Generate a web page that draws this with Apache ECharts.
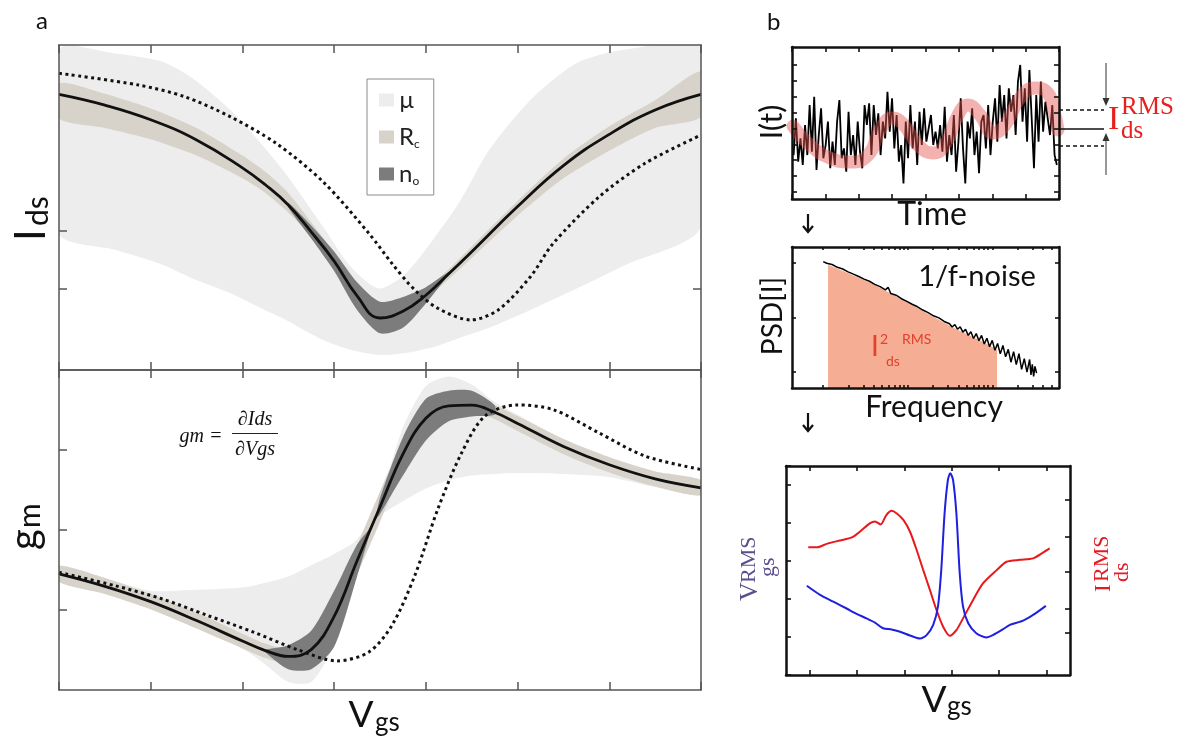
<!DOCTYPE html>
<html lang="en">
<head>
<meta charset="UTF-8">
<script src="https://cdn.jsdelivr.net/npm/echarts@6/dist/echarts.min.js"></script>
<title>Ids, gm and noise</title>
<style>html, body { margin: 0; padding: 0; background: #fff; }</style>
</head>
<body>
<div id="main" style="width: 1182px; height: 747px"></div>
<script>
    // ---- panel a, top: Ids vs Vgs ----
    var idsX     = [0, 0.5, 1, 1.5, 2, 2.25, 2.5, 2.75, 3, 3.25, 3.5, 3.75, 4, 4.25, 4.5, 5, 5.5, 6, 6.5, 7];
    var idsFit   = [84.8, 81.5, 77, 70.8, 62.2, 57, 50.8, 42.5, 33.5, 22.8, 16, 18.1, 23, 29.6, 36.4, 50.3, 62.9, 72.5, 80, 84.8];
    var idsRcHi  = [88.2, 85, 80.5, 74.5, 66, 61, 54.5, 45.5, 36, 25, 17.2, 19.2, 24.6, 31, 38, 52, 65, 75, 83, 91.8];
    var idsRcLo  = [77.5, 74.5, 71, 66, 59, 54.5, 48.5, 41, 32, 21.5, 15, 17, 22, 28, 34.5, 47.5, 59, 67.5, 74.5, 78];
    var idsMuX   = [0, 0.61, 1.12, 1.47, 1.87, 2.17, 2.47, 2.88, 3.18, 3.49, 3.78, 4.13, 4.38, 4.69, 5.14, 5.64, 6.15, 7];
    var idsMuHi  = [98.5, 97.4, 94.9, 89.5, 80, 70.8, 60.5, 44.1, 31.8, 25.1, 29.7, 42.1, 52.3, 67.7, 83.1, 94.4, 98.5, 99];
    var idsMuLo  = [42, 37, 32.5, 28, 23.6, 19.5, 15.5, 9.2, 6.2, 4.6, 5.2, 7.5, 10, 13, 18.5, 25, 32, 44];
    var idsNoX   = [2.5, 2.75, 3, 3.25, 3.5, 3.75, 4, 4.25];
    var idsNoHi  = [51.5, 44.5, 36.5, 27, 21, 22.5, 25.5, 30.2];
    var idsNoLo  = [50, 40.5, 30.5, 18.5, 11.3, 13, 20.5, 29.5];
    var idsDotX  = [0, 0.865, 1.37, 1.87, 2.37, 2.88, 3.38, 3.63, 3.88, 4.13, 4.49, 4.79, 5.14, 5.39, 5.89, 6.39, 7];
    var idsDotY  = [91.3, 87.7, 84.1, 77.9, 69.7, 57.9, 42, 32.8, 24.6, 19, 15.4, 18.5, 28.7, 39, 53.3, 63.6, 72.3];

    // ---- panel a, bottom: gm vs Vgs ----
    var gmX      = [0, 0.5, 1, 1.5, 2, 2.25, 2.5, 2.75, 3, 3.25, 3.5, 3.75, 4, 4.25, 4.5, 4.75, 5, 5.5, 6, 6.5, 7];
    var gmFit    = [36.3, 32.4, 27.6, 21.7, 15.3, 12.3, 10.5, 12.6, 23, 40.4, 57.2, 73.7, 84.9, 88.8, 89, 86.8, 83.3, 76.1, 70.4, 66, 63.2];
    var gmRcHi   = [38.8, 35, 30, 24.2, 17.6, 14.5, 12.8, 15.2, 27, 45, 62, 78, 88, 91.2, 91.4, 89.1, 85.6, 78.4, 72.7, 68.3, 65.6];
    var gmRcLo   = [33.8, 30, 25.2, 19.2, 13, 10, 8.2, 10, 19.5, 36, 52.5, 69.5, 81.8, 86.5, 86.8, 84.6, 80.9, 73.7, 68, 63.6, 60.8];
    var gmMuHi   = [38.8, 35, 31, 31.3, 32, 33.5, 35.5, 39, 42.5, 47, 60, 82, 95, 98, 95.5, 90, 86, 78.5, 72.8, 68.3, 65.6];
    var gmMuLo   = [33.8, 30, 25.2, 19.2, 13, 8, 2.5, 2.5, 14, 36, 54, 59, 63, 65.5, 67, 67.5, 67.8, 67.5, 66.5, 63.4, 60.8];
    var gmNoX    = [2.25, 2.5, 2.75, 3, 3.25, 3.43, 3.5, 3.75, 4, 4.25, 4.5, 4.75];
    var gmNoHi   = [12.6, 14, 18.5, 31, 45.5, 52.3, 60, 79, 91, 93.5, 93.5, 89];
    var gmNoLo   = [11.8, 6.5, 6.5, 13.5, 35.5, 52.3, 55, 67, 78, 84, 85.5, 86];
    var gmDotX   = [0, 0.61, 1.12, 1.62, 2.12, 2.62, 3.03, 3.38, 3.63, 3.88, 4.13, 4.39, 4.64, 4.99, 5.39, 5.89, 6.39, 7];
    var gmDotY   = [36.8, 32.6, 28.5, 23.3, 18.1, 12.4, 9.1, 11.9, 20.2, 35.8, 56.5, 74.1, 85.5, 89.1, 87.6, 80.3, 73.1, 68.9];

    // ---- panel b, I(t) ----
    var noiseY = [28.9, 53.1, 24.6, 39.9, 22.4, 48.7, 28.9, 61.8, 31.1, 67.3, 19.1, 42.1, 59.6, 26.8, 35.5, 50.9,
        20.2, 37.7, 22.4, 50.9, 65.1, 26.8, 33.3, 18, 57.4, 28.9, 42.1, 22.4, 50.9, 31.1, 20.2, 61.8, 48.7, 63,
        28.9, 61.8, 42.1, 56.4, 28.9, 50.9, 39.9, 70.6, 44.3, 66.2, 33.3, 55.3, 24.6, 35.5, 10.3, 50.9, 26.8,
        61.8, 33.3, 50.9, 22.4, 57.4, 35.5,
        59.6, 37.7, 46.5, 55.3, 35.5, 44.3, 33.3, 48.7, 31.1, 60.7, 24.6, 42.1, 28.9, 55.3, 18, 37.7, 66.2, 33.3,
        10.3, 50.9, 39.9, 59.6, 28.9, 44.3, 16.9, 50.9, 55.3, 33.3, 61.8, 28.9, 50.9, 66.2, 37.7, 75, 50.9, 68.4,
        39.9, 72.8, 57.4, 68.4, 42.1, 77.2, 88.2, 50.9, 72.8, 37.7, 84.9, 53.1, 20.2, 68.4, 37.7, 77.2, 44.3, 64,
        53.1, 42.1, 61.8, 28.9, 22.4];
    var trendX = [0.4, 6.7, 14.2, 21.7, 28.5, 33, 37.5, 41.6, 47.2, 52.8, 57.3, 62.2, 65.9, 70.4, 75.3, 79.8, 85.4, 91, 95.5, 98.5, 99.6];
    var trendY = [48, 35.5, 27, 24.3, 28.9, 45.4, 53.3, 49.3, 35.5, 30.3, 35.5, 55.3, 61.8, 55.3, 43.4, 48.7, 66.4, 73, 70.4, 55.3, 45.4];

    // ---- panel b, PSD ----
    var psdX = [11.7, 13, 15, 17, 19, 21, 23, 25, 27, 29, 31, 33, 35, 36, 37, 39, 41, 43, 45, 47, 49, 51, 53, 55, 57, 59,
        60, 61, 62, 63, 64, 65, 66, 67, 68, 69, 70, 71, 72, 73, 74, 75, 76, 77, 78, 79, 80, 81, 82, 83, 84, 85, 86,
        87, 88, 89, 89.5, 90, 90.5, 91, 91.6];
    var psdY = [89.6, 88.5, 87.6, 85.6, 84.4, 82.4, 80.8, 79.1, 77.2, 75.7, 73.5, 71.9, 69.6, 71.4, 67, 65.8, 63.3,
        61.4, 59.4, 57.6, 55.3, 53.5, 51.2, 49.7, 47.2, 45.6, 43.3, 45, 41.7, 43.4, 39.6, 41.7, 37.3, 39.9, 35.1,
        38.6, 33.6, 37.3, 31.2, 35.3, 29.2, 33.8, 26.7, 31.6, 24.2, 30.2, 22.1, 27.4, 18.3, 25.8, 16.6, 24.3, 13.2,
        20.8, 11.2, 20.2, 9.2, 16.8, 8.2, 15.3, 10.5];
    var fillX = [13.5, 20, 30, 40, 50, 60, 70, 76.8];
    var fillY = [87.4, 82.3, 74, 64, 53.6, 43.3, 34.2, 27.3];
    var psdMinor = [11.6, 21.1, 26.7, 30.7, 33.8, 36.3, 38.4, 40.2, 41.8, 43.3, 52.8, 58.4, 62.4, 65.5, 68, 70.1,
        71.9, 73.5, 75, 84.5, 90.1, 94.1, 97.2];

    // ---- panel b, RMS vs Vgs ----
    var redX  = [0.47, 0.65, 0.86, 1.14, 1.39, 1.56, 1.77, 1.88, 2.0, 2.12, 2.23, 2.34, 2.48, 2.62, 2.76, 2.9, 3.04,
        3.18, 3.32, 3.46, 3.6, 3.74, 3.95, 4.16, 4.45, 4.66, 4.94, 5.22, 5.43, 5.57];
    var redY  = [3.36, 3.36, 3.45, 3.54, 3.62, 3.77, 3.99, 4.04, 3.96, 4.21, 4.32, 4.25, 4.08, 3.77, 3.29, 2.76, 2.24,
        1.71, 1.27, 1.03, 1.18, 1.49, 1.97, 2.41, 2.76, 2.98, 3.03, 3.07, 3.22, 3.33];
    var blueX = [0.44, 0.72, 1.0, 1.28, 1.49, 1.7, 1.88, 2.05, 2.23, 2.41, 2.62, 2.83, 2.97, 3.11, 3.21, 3.28, 3.35,
        3.42, 3.47, 3.53, 3.6, 3.67, 3.74, 3.85, 4.02, 4.23, 4.37, 4.58, 4.73, 5.01, 5.22, 5.49];
    var blueY = [2.35, 2.11, 1.93, 1.75, 1.61, 1.49, 1.38, 1.23, 1.2, 1.14, 1.04, 0.96, 1.05, 1.32, 1.8, 2.76, 4.25,
        5.13, 5.31, 5.13, 4.25, 2.68, 1.8, 1.36, 1.1, 0.99, 1.05, 1.2, 1.32, 1.43, 1.58, 1.82];

    var MU = '#ededed', RC = '#d7d3cb', NO = '#7c7c7c';
    var GREY = '#555', INK = '#111';
    var SANS = 'Lato', SERIF = 'Liberation Serif';

    var chart = echarts.init(document.getElementById('main'));

    function pairs(xs, ys) {
        return xs.map(function (x, i) { return [x, ys[i]]; });
    }

    // two value axes for one grid side pair (bottom/top or left/right)
    function axisPair(dir, grid, min, max, ticks, col, w, len) {
        var pos = dir === 'x' ? ['bottom', 'top'] : ['left', 'right'];
        return pos.map(function (p, k) {
            var t = ticks[k];
            return {
                type: 'value', gridIndex: grid, position: p, min: min, max: max, z: 6,
                interval: t ? t.interval : undefined,
                axisLine: {show: true, onZero: false, lineStyle: {color: col, width: w}},
                axisTick: {show: !!t, inside: true, length: len,
                    lineStyle: {color: col, width: Math.min(w, 1.6)}, customValues: t ? t.values : undefined},
                axisLabel: {show: false},
                splitLine: {show: false}
            };
        });
    }

    // shaded band between lo and hi, drawn as one polygon through the axes
    function bandItem(params, api) {
        if (params.dataIndexInside !== 0) return;
        var up = [], dn = [];
        for (var i = 0; i < params.dataInsideLength; i++) {
            var x = api.value(0, i);
            up.push(api.coord([x, api.value(2, i)]));
            dn.push(api.coord([x, api.value(1, i)]));
        }
        return {type: 'polygon', shape: {points: up.concat(dn.reverse()), smooth: 0.25},
            style: {fill: api.visual('color')}};
    }

    function band(grid, name, xs, lo, hi, color) {
        return {type: 'custom', name: name, xAxisIndex: grid * 2, yAxisIndex: grid * 2, clip: true, silent: true,
            itemStyle: {color: color}, encode: {x: 0, y: [1, 2]}, renderItem: bandItem,
            data: xs.map(function (x, i) { return [x, lo[i], hi[i]]; })};
    }

    function curve(grid, xs, ys, color, width, type, smooth) {
        return {type: 'line', xAxisIndex: grid * 2, yAxisIndex: grid * 2, data: pairs(xs, ys), smooth: smooth,
            symbol: 'none', silent: true, emphasis: {disabled: true},
            lineStyle: {color: color, width: width, type: type, cap: 'butt'}};
    }

    var xAxes = [].concat(
        axisPair('x', 0, 0, 7, [{interval: 1}, {interval: 1}], GREY, 1.5, 8),
        axisPair('x', 1, 0, 7, [{interval: 1}, {interval: 1}], GREY, 1.5, 8),
        axisPair('x', 2, 0, 100, [{interval: 12.5}, {interval: 12.5}], INK, 2.5, 5),
        axisPair('x', 3, 0, 100, [{values: psdMinor}, {values: psdMinor}], INK, 2.5, 3),
        axisPair('x', 4, 0, 6, [{values: [0.5, 1.5, 2.5, 3.5, 4.5, 5.5]}, {values: [0.5, 1.5, 2.5, 3.5, 4.5, 5.5]}], INK, 2.5, 5)
    );
    var yAxes = [].concat(
        axisPair('y', 0, 0, 100, [{values: [25, 43]}, {values: [25]}], GREY, 1.5, 8),
        axisPair('y', 1, 0, 100, [{values: [25, 50, 75]}, null], GREY, 1.5, 8),
        axisPair('y', 2, 0, 100, [{values: [4.5, 15, 25.5, 36, 46.5, 57, 67.5, 78, 88.5]},
            {values: [4.5, 15, 25.5, 36, 46.5, 57, 67.5, 78, 88.5]}], INK, 2.5, 5),
        axisPair('y', 3, 0, 100, [{values: [11.3, 49.6, 88.7]}, {values: [11.3, 49.6, 88.7]}], INK, 2.5, 4),
        axisPair('y', 4, 0, 5.5, [{interval: 1}, {values: [1.1, 1.75, 2.72, 3.64, 4.6]}], INK, 2.5, 5)
    );

    var series = [
        band(0, '\u00b5', idsMuX, idsMuLo, idsMuHi, MU),
        band(1, '\u00b5', gmX, gmMuLo, gmMuHi, MU),
        band(0, 'Rc', idsX, idsRcLo, idsRcHi, RC),
        band(1, 'Rc', gmX, gmRcLo, gmRcHi, RC),
        band(0, 'no', idsNoX, idsNoLo, idsNoHi, NO),
        band(1, 'no', gmNoX, gmNoLo, gmNoHi, NO),
        curve(0, idsDotX, idsDotY, INK, 3, [3, 3.5], 0.3),
        curve(1, gmDotX, gmDotY, INK, 3, [3, 3.5], 0.3),
        curve(0, idsX, idsFit, INK, 2.8, 'solid', 0.45),
        curve(1, gmX, gmFit, INK, 2.8, 'solid', 0.4),
        // I(t): raw trace plus its slow component
        {type: 'line', xAxisIndex: 4, yAxisIndex: 4, symbol: 'none', silent: true,
            data: noiseY.map(function (v, i) { return [0.6 + i * 98.6 / (noiseY.length - 1), v]; }),
            lineStyle: {color: '#000', width: 1.8}},
        {type: 'line', xAxisIndex: 4, yAxisIndex: 4, symbol: 'none', silent: true, smooth: 0.5,
            data: pairs(trendX, trendY),
            lineStyle: {color: 'rgba(228,84,78,0.45)', width: 13, cap: 'round', join: 'round'}},
        // PSD
        {type: 'line', xAxisIndex: 6, yAxisIndex: 6, symbol: 'none', silent: true, data: pairs(fillX, fillY),
            smooth: 0.3, lineStyle: {width: 0}, areaStyle: {color: '#f5ae93', opacity: 1}},
        curve(3, psdX, psdY, '#000', 1.5, 'solid', false),
        // RMS vs Vgs
        curve(4, redX, redY, '#e8191c', 2, 'solid', 0.25),
        curve(4, blueX, blueY, '#1f20df', 2, 'solid', 0.25)
    ];

    function txt(x, y, text, size, opt) {
        opt = opt || {};
        return {type: 'text', x: x, y: y, rotation: opt.rot || 0, z: 10,
            style: {text: text, fontSize: size, fontFamily: opt.font || SANS, fontStyle: opt.italic ? 'italic' : 'normal',
                fill: opt.color || '#111', align: opt.align || 'left', verticalAlign: 'middle',
                textAlign: opt.align || 'left', textVerticalAlign: 'middle'}};
    }

    // rotated label: children laid out along the reading direction
    function rotLabel(x, y, parts) {
        return {type: 'group', x: x, y: y, rotation: Math.PI / 2, z: 10,
            children: parts.map(function (p) { return txt(p[0], p[1], p[2], p[3], p[4]); })};
    }

    var PURPLE = '#5b4d8e', RED = '#e31b23';

    var graphics = [
        txt(36, 21, 'a', 24),
        txt(767, 22, 'b', 24),
        // panel a axis titles
        txt(361, 715, 'V', 37, {align: 'center'}),
        txt(375, 723, 'gs', 26),
        rotLabel(44, 241, [[0, -13, 'I', 42], [15, -6, 'ds', 30]]),
        rotLabel(38, 550, [[0, -13, 'g', 40], [22, -8, 'm', 30]]),
        // gm formula
        txt(201, 437, 'gm =', 20, {font: SERIF, italic: true, align: 'center'}),
        txt(255, 420, '\u2202Ids', 20, {font: SERIF, italic: true, align: 'center'}),
        txt(255, 450, '\u2202Vgs', 20, {font: SERIF, italic: true, align: 'center'}),
        {type: 'line', z: 10, shape: {x1: 232, y1: 433.5, x2: 278, y2: 433.5}, style: {stroke: '#222', lineWidth: 1.2}},
        // panel b titles
        txt(932, 215, 'Time', 32, {align: 'center'}),
        txt(772, 122, 'I(t)', 30, {align: 'center', rot: Math.PI / 2}),
        txt(934, 407, 'Frequency', 30, {align: 'center'}),
        txt(773, 316, 'PSD[I]', 28, {align: 'center', rot: Math.PI / 2}),
        txt(977, 277, '1/f-noise', 29, {align: 'center'}),
        txt(934, 700, 'V', 37, {align: 'center'}),
        txt(947, 707, 'gs', 26),
        // I_ds RMS at the right of I(t)
        txt(1108, 120, 'I', 34, {font: SERIF, color: '#e8201d'}),
        txt(1121, 107, 'RMS', 25, {font: SERIF, color: '#e8201d'}),
        txt(1121, 131, 'ds', 25, {font: SERIF, color: '#e8201d'}),
        // I^2_ds RMS inside PSD
        txt(871, 347, 'I', 28, {color: '#e2412f'}),
        txt(880, 339, '2', 14, {color: '#e2412f'}),
        txt(902, 339, 'RMS', 14, {color: '#e2412f'}),
        txt(886, 361, 'ds', 14, {color: '#e2412f'}),
        // side labels of the last plot
        rotLabel(758, 601, [[0, -8, 'V', 26, {font: SERIF, color: PURPLE}],
            [18, -9, 'RMS', 22, {font: SERIF, color: PURPLE}],
            [24, 10, 'gs', 22, {font: SERIF, color: PURPLE}]]),
        rotLabel(1111, 592, [[0, -7, 'I', 23, {font: SERIF, color: RED}],
            [10, -9, 'RMS', 22, {font: SERIF, color: RED}],
            [10, 11, 'ds', 22, {font: SERIF, color: RED}]]),
        // RMS markers
        {type: 'line', z: 10, shape: {x1: 1059, y1: 110, x2: 1104, y2: 110}, style: {stroke: '#111', lineWidth: 1.5, lineDash: [4, 3]}},
        {type: 'line', z: 10, shape: {x1: 1059, y1: 146, x2: 1104, y2: 146}, style: {stroke: '#111', lineWidth: 1.5, lineDash: [4, 3]}},
        {type: 'line', z: 10, shape: {x1: 1059, y1: 129, x2: 1104, y2: 129}, style: {stroke: '#111', lineWidth: 1.5}},
        {type: 'line', z: 10, shape: {x1: 1106, y1: 63, x2: 1106, y2: 100}, style: {stroke: '#333', lineWidth: 1}},
        {type: 'polygon', z: 10, shape: {points: [[1102.5, 98], [1109.5, 98], [1106, 106]]}, style: {fill: '#333'}},
        {type: 'line', z: 10, shape: {x1: 1106, y1: 175, x2: 1106, y2: 139}, style: {stroke: '#333', lineWidth: 1}},
        {type: 'polygon', z: 10, shape: {points: [[1102.5, 141], [1109.5, 141], [1106, 133]]}, style: {fill: '#333'}},
        // flow arrows
        {type: 'polyline', z: 10, shape: {points: [[808, 214], [808, 232]]}, style: {stroke: '#111', lineWidth: 2.2}},
        {type: 'polyline', z: 10, shape: {points: [[803, 226], [808, 232], [813, 226]]}, style: {stroke: '#111', lineWidth: 2.2, fill: null}},
        {type: 'polyline', z: 10, shape: {points: [[808, 413], [808, 431]]}, style: {stroke: '#111', lineWidth: 2.2}},
        {type: 'polyline', z: 10, shape: {points: [[803, 425], [808, 431], [813, 425]]}, style: {stroke: '#111', lineWidth: 2.2, fill: null}}
    ];

    var option = {
        animation: false,
        backgroundColor: '#fff',
        grid: [
            {left: 59, top: 45, width: 642, height: 325},
            {left: 59, top: 370, width: 642, height: 320},
            {left: 792, top: 47, width: 267, height: 152},
            {left: 792, top: 247, width: 267, height: 141},
            {left: 786, top: 466, width: 284, height: 209}
        ],
        xAxis: xAxes,
        yAxis: yAxes,
        legend: {
            orient: 'vertical', left: 367, top: 79, padding: [8, 14, 8, 12],
            borderColor: '#8c8c8c', borderWidth: 1, backgroundColor: '#fff',
            itemWidth: 15, itemHeight: 13, itemGap: 11, selectedMode: false,
            itemStyle: {borderWidth: 0},
            data: [
                {name: '\u00b5', icon: 'rect', itemStyle: {color: MU}},
                {name: 'Rc', icon: 'rect', itemStyle: {color: RC}},
                {name: 'no', icon: 'rect', itemStyle: {color: NO}}
            ],
            formatter: function (name) {
                if (name === 'Rc') return '{m|R}{s|c}';
                if (name === 'no') return '{m|n}{s|o}';
                return '{m|' + name + '}';
            },
            textStyle: {
                color: '#222', fontFamily: SANS, fontSize: 24, lineHeight: 26,
                rich: {
                    m: {fontSize: 24, lineHeight: 26, fontFamily: SANS, color: '#222'},
                    s: {fontSize: 12, lineHeight: 12, fontFamily: SANS, color: '#222', verticalAlign: 'bottom'}
                }
            }
        },
        graphic: graphics,
        series: series
    };

    chart.setOption(option);
</script>
</body>
</html>
